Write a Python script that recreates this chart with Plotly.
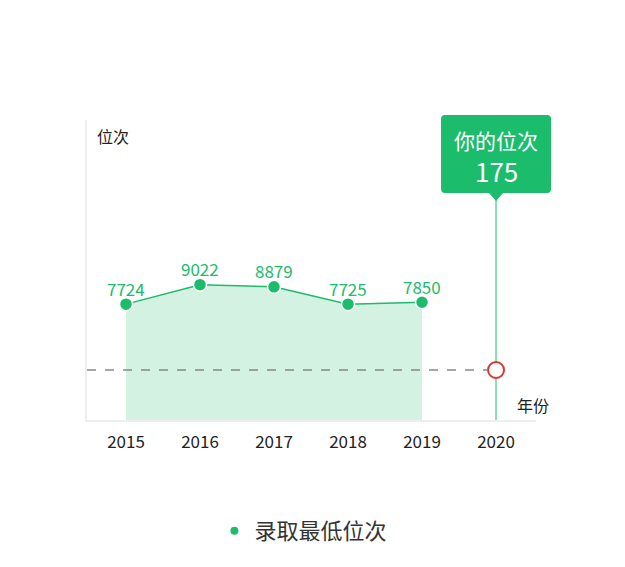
import plotly.graph_objects as go

years = ["2015", "2016", "2017", "2018", "2019", "2020"]
hist_years = ["2015", "2016", "2017", "2018", "2019"]
min_rank = [7724, 9022, 8879, 7725, 7850]
your_year = "2020"
your_rank = 175
series_name = "录取最低位次"
tip_title = "你的位次"
y_title = "位次"
x_title = "年份"

GREEN = "#1bbc6b"
FILL = "#d3f2e1"
RED = "#d9382e"
FONT = "Noto Sans CJK SC"

xrange = [-0.527, 5.54]
your_idx = years.index(your_year)
your_xpaper = (your_idx - xrange[0]) / (xrange[1] - xrange[0])

fig = go.Figure()

fig.add_trace(go.Scatter(
    x=hist_years, y=min_rank, mode="lines+markers",
    fill="tozeroy", fillcolor=FILL,
    line=dict(color=GREEN, width=1.5),
    marker=dict(size=13, color=GREEN, line=dict(color="white", width=1.5)),
    showlegend=False, hoverinfo="skip", cliponaxis=False,
))

# your rank marker on its own (hidden) scale
fig.add_trace(go.Scatter(
    x=[your_year], y=[your_rank], yaxis="y2", mode="markers",
    marker=dict(size=16, color="white", line=dict(color=RED, width=2)),
    showlegend=False, hoverinfo="skip", cliponaxis=False,
))

# legend entry
fig.add_trace(go.Scatter(
    x=[None], y=[None], mode="markers", name=series_name,
    marker=dict(size=8, color=GREEN),
))

shapes = [
    # vertical line at your year
    dict(type="line", xref="x", yref="paper", x0=your_idx, x1=your_idx, y0=0, y1=1,
         line=dict(color="#8edcb2", width=2), layer="below"),
    # dashed horizontal line at your rank
    dict(type="line", xref="x", yref="y2", x0=xrange[0], x1=your_idx - 0.11,
         y0=your_rank, y1=your_rank,
         line=dict(color="#888888", width=1.5, dash="dash"), layer="above"),
    # tooltip box with pointer
    dict(type="path", xref="paper", yref="paper", xsizemode="pixel", ysizemode="pixel",
         xanchor=your_xpaper, yanchor=1,
         path=("M -51,5 L 51,5 Q 55,5 55,1 L 55,-69 Q 55,-73 51,-73 "
               "L 7,-73 L 0,-81 L -7,-73 L -51,-73 Q -55,-73 -55,-69 "
               "L -55,1 Q -55,5 -51,5 Z"),
         fillcolor=GREEN, line=dict(width=0), layer="above"),
]

annotations = [
    dict(x=years.index(yr), y=v, xref="x", yref="y", text=str(v), showarrow=False,
         yanchor="middle", yshift=16, font=dict(color=GREEN, size=17, family=FONT))
    for yr, v in zip(hist_years, min_rank)
] + [
    dict(x=your_idx, y=1, xref="x", yref="paper", text=tip_title, showarrow=False,
         yanchor="middle", yshift=-20, font=dict(color="white", size=21, family=FONT)),
    dict(x=your_idx, y=1, xref="x", yref="paper", text=str(your_rank), showarrow=False,
         yanchor="middle", yshift=-50, font=dict(color="white", size=26, family=FONT)),
    dict(x=0, y=1, xref="paper", yref="paper", text=y_title, showarrow=False,
         xanchor="left", yanchor="middle", xshift=8, yshift=-16,
         font=dict(color="#222", size=16, family=FONT)),
    dict(x=1, y=0, xref="paper", yref="paper", text=x_title, showarrow=False,
         xanchor="left", yanchor="middle", xshift=-21, yshift=15,
         font=dict(color="#222", size=16, family=FONT)),
]

fig.update_layout(
    width=625, height=567,
    margin=dict(l=79, r=97, t=112, b=155),
    paper_bgcolor="white", plot_bgcolor="white",
    font=dict(family=FONT, color="#222"),
    xaxis=dict(type="category", categoryorder="array", categoryarray=years,
               tickvals=years, range=xrange, showgrid=False, zeroline=False,
               showline=True, linecolor="#eeeeee", linewidth=2, ticks="",
               tickfont=dict(size=17, color="#222", family=FONT), ticklabelstandoff=6),
    yaxis=dict(range=[0, 20000], showgrid=False, zeroline=False, showticklabels=False,
               showline=True, linecolor="#eeeeee", linewidth=2, ticks=""),
    yaxis2=dict(range=[0, 1050], overlaying="y", visible=False, showgrid=False),
    showlegend=True,
    legend=dict(orientation="h", x=0.482, xanchor="center", y=-0.37, yanchor="middle",
                font=dict(size=22, color="#333", family=FONT)),
    shapes=shapes, annotations=annotations,
)

fig.write_html("out.html")
